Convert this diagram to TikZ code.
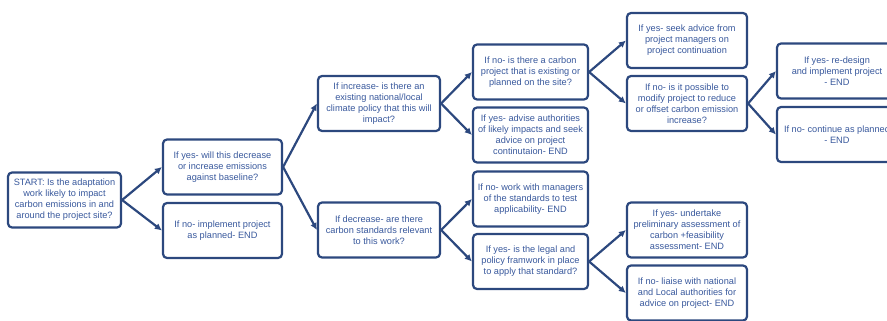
\documentclass[tikz,border=0pt]{standalone}
\usepackage{fontspec}
\setmainfont{Liberation Sans}
\usepackage{tikz}
\usetikzlibrary{arrows.meta, positioning}
\definecolor{boxline}{RGB}{44,72,126}
\definecolor{boxtext}{RGB}{56,88,156}

\begin{document}
\begin{tikzpicture}[
    x=1pt, y=-1pt,
    cell/.style={draw=boxline, line width=2.2pt, rounded corners=4pt, align=center,
        text=boxtext, font=\fontsize{9.2}{11}\selectfont, inner sep=0pt,
        minimum width=#1, minimum height=55pt},
    cell/.default=119pt,
    arrow/.style={-{Latex[length=7pt,width=7pt]}, draw=boxline, line width=2.2pt}
]
    \useasboundingbox (0,0) rectangle (887,321);
    % column 1
    \node[cell=113pt] (start) at (64.5,200) {START: Is the adaptation\\work likely to impact\\carbon emissions in and\\around the project site?};
    % column 2
    \node[cell] (yes1) at (222.5,167) {If yes- will this decrease\\or increase emissions\\against baseline?};
    \node[cell] (no1) at (222.5,230.5) {If no- implement project\\as planned- END};
    % column 3
    \node[cell=122pt] (incr) at (379,103.5) {If increase- is there an\\existing national/local\\climate policy that this will\\impact?};
    \node[cell=122pt] (decr) at (379,230) {If decrease- are there\\carbon standards relevant\\to this work?};
    % column 4
    \node[cell=115pt] (carbproj) at (530.5,72) {If no- is there a carbon\\project that is existing or\\planned on the site?};
    \node[cell=115pt] (advise) at (530.5,135) {If yes- advise authorities\\of likely impacts and seek\\advice on project\\continutaion- END};
    \node[cell=115pt] (managers) at (530.5,199) {If no- work with managers\\of the standards to test\\applicability- END};
    \node[cell=115pt] (legal) at (530.5,261.5) {If yes- is the legal and\\policy framwork in place\\to apply that standard?};
    % column 5
    \node[cell=120pt] (seek) at (687,40.5) {If yes- seek advice from\\project managers on\\project continuation};
    \node[cell=120pt] (modify) at (687,103.5) {If no- is it possible to\\modify project to reduce\\or offset carbon emission\\increase?};
    \node[cell=120pt] (assess) at (687,230) {If yes- undertake\\preliminary assessment of\\carbon +feasibility\\assessment- END};
    \node[cell=120pt] (liaise) at (687,293) {If no- liaise with national\\and Local authorities for\\advice on project- END};
    % column 6
    \node[cell=120pt] (redesign) at (837,71) {If yes- re-design\\and implement project\\- END};
    \node[cell=120pt] (continue) at (837,134.5) {If no- continue as planned\\- END};

    \draw[arrow] (start.east) -- (yes1.west);
    \draw[arrow] (start.east) -- (no1.west);
    \draw[arrow] (yes1.east) -- (incr.west);
    \draw[arrow] (yes1.east) -- (decr.west);
    \draw[arrow] (incr.east) -- (carbproj.west);
    \draw[arrow] (incr.east) -- (advise.west);
    \draw[arrow] (decr.east) -- (managers.west);
    \draw[arrow] (decr.east) -- (legal.west);
    \draw[arrow] (carbproj.east) -- (seek.west);
    \draw[arrow] (carbproj.east) -- (modify.west);
    \draw[arrow] (legal.east) -- (assess.west);
    \draw[arrow] (legal.east) -- (liaise.west);
    \draw[arrow] (modify.east) -- (redesign.west);
    \draw[arrow] (modify.east) -- (continue.west);
\end{tikzpicture}
\end{document}
